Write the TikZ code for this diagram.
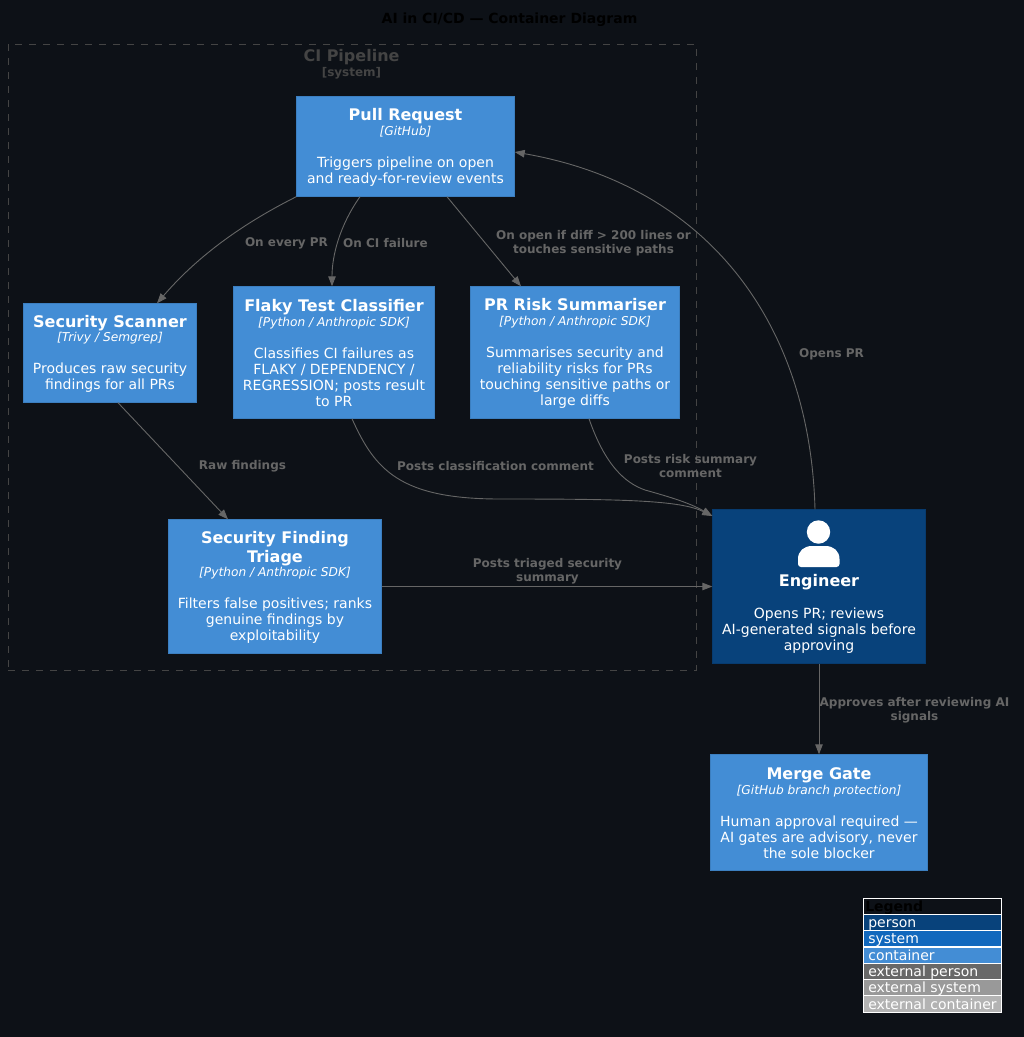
\documentclass[tikz,border=0pt]{standalone}
\usepackage{fontspec}
\setmainfont{DejaVu Sans}
\usetikzlibrary{arrows.meta}
\definecolor{bg1}{RGB}{13, 17, 23}
\definecolor{cont1}{RGB}{67, 141, 213}
\definecolor{contb}{RGB}{60, 127, 192}
\definecolor{pers1}{RGB}{8, 66, 123}
\definecolor{persb}{RGB}{7, 59, 111}
\definecolor{sys1}{RGB}{17, 104, 189}
\definecolor{extp}{RGB}{104, 104, 104}
\definecolor{exts}{RGB}{153, 153, 153}
\definecolor{extc}{RGB}{179, 179, 179}
\definecolor{line1}{RGB}{102, 102, 102}
\definecolor{clus1}{RGB}{68, 68, 68}
\newcommand{\cname}[1]{\raisebox{-1.5pt}[12pt][3pt]{\fontsize{16}{16}\selectfont\bfseries #1}}
\newcommand{\ctech}[1]{{\fontsize{12.2}{16}\selectfont\itshape [#1]}}
\tikzset{
  cbox/.style={rectangle, draw=contb, fill=cont1, text=white, align=center, inner sep=0pt, outer sep=0pt,
    line width=1pt, font=\fontsize{14}{16}\selectfont},
  rel/.style={draw=line1, line width=0.9pt, -{Triangle[length=10pt,width=7.5pt]}, line1},
  lab/.style={text=line1, align=center, inner sep=0pt, font=\fontsize{12}{14}\selectfont\bfseries},
  legrow/.style={rectangle, draw=white, line width=1pt, inner sep=0pt, outer sep=0pt, minimum width=138pt,
    minimum height=16.3pt, text=white, font=\fontsize{14}{14}\selectfont}
}
\begin{document}
\begin{tikzpicture}[x=1pt, y=-1pt]
  \fill[bg1] (0,0) rectangle (1024,1037);
  \useasboundingbox (0,0) rectangle (1024,1037);

  \node[text=black, inner sep=0pt, font=\fontsize{14}{16}\selectfont\bfseries] (title) at (509.5,19.5) {AI in CI/CD — Container Diagram};

  \node[draw=clus1, dashed, dash pattern=on 7pt off 7pt, line width=0.8pt, minimum width=688pt, minimum height=626pt, inner sep=0pt] (ci) at (352,357) {};
  \node[text=clus1, inner sep=0pt, font=\fontsize{16}{16}\selectfont\bfseries] (ciname) at (351.5,57.5) {CI Pipeline};
  \node[text=clus1, inner sep=0pt, font=\fontsize{12}{12}\selectfont\bfseries] (citype) at (351.5,73) {[system]};

  \node[cbox, minimum width=218.4pt, minimum height=100.4pt] (pr) at (405.5,146.5)
    {\cname{Pull Request}\\\ctech{GitHub}\\[16pt]Triggers pipeline on open\\and ready-for-review events};
  \node[cbox, minimum width=173.4pt, minimum height=99.4pt] (scan) at (110,353)
    {\cname{Security Scanner}\\\ctech{Trivy / Semgrep}\\[16pt]Produces raw security\\findings for all PRs};
  \node[cbox, minimum width=201.4pt, minimum height=132.4pt] (flaky) at (334,352.5)
    {\cname{Flaky Test Classifier}\\\ctech{Python / Anthropic SDK}\\[16pt]Classifies CI failures as\\FLAKY / DEPENDENCY /\\REGRESSION; posts result\\to PR};
  \node[cbox, minimum width=209.4pt, minimum height=132.4pt] (risk) at (575,352.5)
    {\cname{PR Risk Summariser}\\\ctech{Python / Anthropic SDK}\\[16pt]Summarises security and\\reliability risks for PRs\\touching sensitive paths or\\large diffs};
  \node[cbox, minimum width=213.4pt, minimum height=134.4pt] (triage) at (275,586.5)
    {\cname{Security Finding}\\[3pt]\cname{Triage}\\\ctech{Python / Anthropic SDK}\\[16pt]Filters false positives; ranks\\genuine findings by\\exploitability};
  \node[cbox, draw=persb, fill=pers1, minimum width=213.4pt, minimum height=154.4pt] (eng) at (819,586.5)
    {\rule{0pt}{65pt}\cname{Engineer}\\[17pt]Opens PR; reviews\\AI-generated signals before\\approving};
  \node[cbox, minimum width=217.4pt, minimum height=116.4pt] (merge) at (819,812.5)
    {\cname{Merge Gate}\\\ctech{GitHub branch protection}\\[16pt]Human approval required —\\AI gates are advisory, never\\the sole blocker};

  % person icon
  \fill[white] (818.5,532) circle (11.7);
  \fill[white] (798,564) -- (798,559) .. controls (798,551) and (804,546) .. (812,546) -- (825.5,546)
    .. controls (833.5,546) and (839.5,551) .. (839.5,559) -- (839.5,564) arc[start angle=0, end angle=90, radius=3]
    -- (801,567) arc[start angle=90, end angle=180, radius=3] -- cycle;

  \coordinate (prb) at ([xshift=-45.5pt]pr.south);
  \coordinate (prc) at ([xshift=41.5pt]pr.south);
  \coordinate (pre) at ([yshift=-5.5pt]pr.east);
  \coordinate (scant) at ([xshift=47pt]scan.north);
  \coordinate (scanb) at ([xshift=8pt]scan.south);
  \coordinate (flakyt) at ([xshift=-2pt]flaky.north);
  \coordinate (flakyb) at ([xshift=18pt]flaky.south);
  \coordinate (riskt) at ([xshift=-54pt]risk.north);
  \coordinate (riskb) at ([xshift=14pt]risk.south);
  \coordinate (triaget) at ([xshift=-47pt]triage.north);
  \coordinate (engt) at ([xshift=-4pt]eng.north);
  \coordinate (engw) at ([yshift=70.5pt]eng.west);

  \foreach \from/\to in {prc/riskt, scanb/triaget, triage/eng, eng/merge}
    \draw[rel] (\from) -- (\to);
  \draw[rel] (pr.south west) .. controls (230,230) and (190,265) .. (scant);
  \draw[rel] (prb) .. controls (340,225) and (332,255) .. (flakyt);
  \draw[rel] (engt) .. controls (810,320) and (705,185) .. (pre);
  \draw[rel] (flakyb) .. controls (375,470) and (400,499) .. (500,499) .. controls (620,499) and (680,500) .. (engw);
  \draw[rel] (riskb) .. controls (605,465) and (625,483) .. (645,490) .. controls (670,497) and (690,503) .. (engw);

  \node[lab] (l1) at (286.5,243) {On every PR};
  \node[lab] (l2) at (385.5,243) {On CI failure};
  \node[lab] (l3) at (593.5,243) {On open if diff > 200 lines or\\touches sensitive paths};
  \node[lab] (l4) at (242.5,466) {Raw findings};
  \node[lab] (l5) at (495.5,466) {Posts classification comment};
  \node[lab] (l6) at (690.5,466) {Posts risk summary\\comment};
  \node[lab] (l7) at (547.5,571) {Posts triaged security\\summary};
  \node[lab] (l8) at (831.5,354) {Opens PR};
  \node[lab] (l9) at (914.5,710) {Approves after reviewing AI\\signals};

  % legend
  \foreach \k/\txt/\col/\ypos in {0/person/pers1/922.3, 1/system/sys1/938.8, 2/container/cont1/955.3,
      3/external person/extp/971.3, 4/external system/exts/987.5, 5/external container/extc/1004}
    \node[legrow, fill=\col] (leg\k) at (932.3,\ypos) {\rlap{\hspace{-64pt}\raisebox{-5pt}[0pt][0pt]{\txt}}};
  \node[legrow, text=black] (legt) at (932.3,906.3) {\rlap{\hspace{-67pt}\raisebox{-5pt}[0pt][0pt]{\bfseries Legend}}};
\end{tikzpicture}
\end{document}
